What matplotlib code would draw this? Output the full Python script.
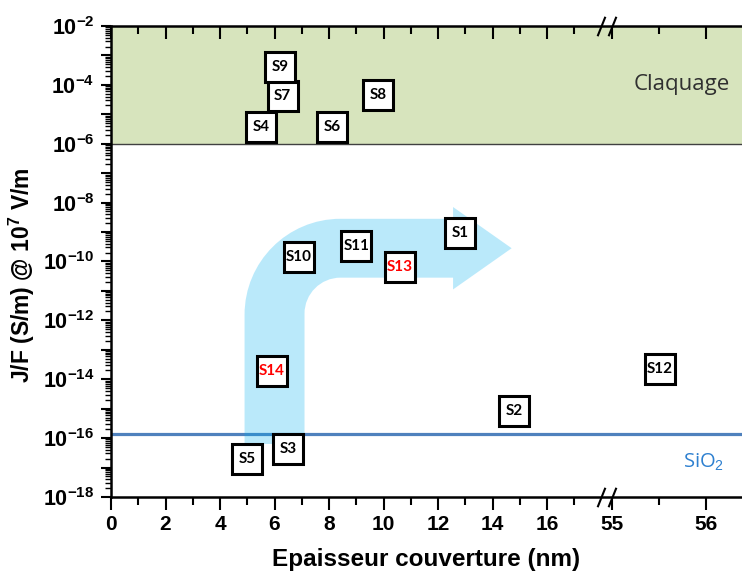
import numpy as np
import matplotlib
matplotlib.use('Agg')
import matplotlib.pyplot as plt
from matplotlib.path import Path
from matplotlib.patches import PathPatch
from matplotlib.ticker import LogLocator, FuncFormatter, NullFormatter
from matplotlib.transforms import blended_transform_factory

plt.rcParams['font.family'] = ['Liberation Sans', 'DejaVu Sans']
plt.rcParams['mathtext.fontset'] = 'custom'
plt.rcParams['mathtext.rm'] = 'Liberation Sans'
plt.rcParams['mathtext.bf'] = 'Liberation Sans:bold'

# samples
sample_names = ['S1', 'S2', 'S3', 'S4', 'S5', 'S6', 'S7',
                'S8', 'S9', 'S10', 'S11', 'S12', 'S13', 'S14']
thickness_nm = [12.8, 14.8, 6.5, 5.5, 5.0, 8.1, 6.3,
                9.8, 6.2, 6.9, 9.0, 55.51, 10.6, 5.9]
jf_values = [9.3e-10, 8.5e-16, 4.4e-17, 3.7e-6, 2.0e-17, 3.7e-6, 4.2e-5,
             4.6e-5, 4.1e-4, 1.45e-10, 3.4e-10, 2.2e-14, 6.6e-11, 1.95e-14]
highlighted = ['S13', 'S14']

# reference levels
sio2_level = 1.4e-16
breakdown_band = (1e-6, 1e-2)

# axis ticks
x_major_ticks = [0, 2, 4, 6, 8, 10, 12, 14, 16, 55, 56]
x_minor_ticks = [1, 3, 5, 7, 9, 11, 13, 15, 17, 55.5]
x_limits = (0, 56.38)
y_limits = (1e-18, 1e-2)

# broken x axis: 55 nm sits right after ~18 nm, and is stretched
BREAK_POS = 18.39
RIGHT_STRETCH = 3.45

# bent arrow (data coords)
arrow_shaft_x = (4.9, 7.1)
arrow_base_y = 10 ** -16.2
arrow_arm_y = (10 ** -10.55, 10 ** -8.55)
arrow_head_x = (12.55, 14.7)
arrow_head_y = (10 ** -10.95, 10 ** -8.15)


def _fwd(x):
    x = np.asarray(x, dtype=float)
    return np.where(x < 30, x, BREAK_POS + (x - 55) * RIGHT_STRETCH)


def _inv(u):
    u = np.asarray(u, dtype=float)
    return np.where(u < BREAK_POS, u, 55 + (u - BREAK_POS) / RIGHT_STRETCH)


def _draw_bend_arrow(ax):
    px = ax.transData.transform
    xl, yb = px((arrow_shaft_x[0], arrow_base_y))
    xr, _ = px((arrow_shaft_x[1], arrow_base_y))
    _, ylo = px((arrow_shaft_x[0], arrow_arm_y[0]))
    _, yhi = px((arrow_shaft_x[0], arrow_arm_y[1]))
    xhb, yht = px((arrow_head_x[0], arrow_head_y[1]))
    xtip, yhb = px((arrow_head_x[1], arrow_head_y[0]))
    ymid = (ylo + yhi) / 2
    w = xr - xl
    r_in = 0.6 * w
    r_out = r_in + w
    k = 0.5523

    verts = [
        (xl, yb),
        (xl, yhi - r_out),
        (xl, yhi - r_out + k * r_out), (xl + r_out - k * r_out, yhi), (xl + r_out, yhi),
        (xhb, yhi),
        (xhb, yht),
        (xtip, ymid),
        (xhb, yhb),
        (xhb, ylo),
        (xr + r_in, ylo),
        (xr + r_in - k * r_in, ylo), (xr, ylo - r_in + k * r_in), (xr, ylo - r_in),
        (xr, yb),
        (xl, yb),
    ]
    codes = [Path.MOVETO, Path.LINETO,
             Path.CURVE4, Path.CURVE4, Path.CURVE4,
             Path.LINETO, Path.LINETO, Path.LINETO, Path.LINETO, Path.LINETO,
             Path.LINETO,
             Path.CURVE4, Path.CURVE4, Path.CURVE4,
             Path.LINETO, Path.CLOSEPOLY]
    verts = ax.transAxes.inverted().transform(np.array(verts))
    ax.add_patch(PathPatch(Path(verts, codes), facecolor='#00b0f0', alpha=0.27,
                           edgecolor='none', transform=ax.transAxes, zorder=3))


def plot_jf_chart():
    fig = plt.figure(figsize=(7.42, 5.76), dpi=100)
    ax = fig.add_axes([0.1496, 0.1372, 0.8504, 0.8177])

    ax.set_xscale('function', functions=(_fwd, _inv))
    ax.set_yscale('log')
    ax.set_xlim(*x_limits)
    ax.set_ylim(*y_limits)

    # Breakdown zone
    ax.axhspan(*breakdown_band, color='#d7e4bd', zorder=0, lw=0)
    ax.axhline(breakdown_band[0], color='#404040', lw=1.0, zorder=1)
    ax.text(55.74, 1e-4, 'Claquage', family='Open Sans', fontsize=16,
            color='#303030', ha='center', va='center')

    # SiO2 reference
    ax.axhline(sio2_level, color='#4f81bd', lw=2.3, zorder=2)
    ax.text(55.97, 10 ** -16.84, 'SiO$_2$', family='Open Sans', fontsize=14.5,
            color='#2e80d0', ha='center', va='center')

    _draw_bend_arrow(ax)

    # Samples
    ax.plot(thickness_nm, jf_values, ls='none', marker='s', ms=21.5,
            mfc='white', mec='black', mew=2.2, zorder=5, clip_on=False)
    for name, x, y in zip(sample_names, thickness_nm, jf_values):
        ax.text(x, y, name, family='Lato', fontweight='bold', fontsize=11,
                color='red' if name in highlighted else 'black',
                ha='center', va='center', zorder=6)

    # Ticks
    ax.set_xticks(x_major_ticks)
    ax.set_xticks(x_minor_ticks, minor=True)
    ax.set_xticklabels([str(t) for t in x_major_ticks])
    ax.yaxis.set_major_locator(LogLocator(base=10, numticks=30))
    ax.yaxis.set_minor_locator(LogLocator(base=10, subs=np.arange(2, 10), numticks=30))
    ax.yaxis.set_minor_formatter(NullFormatter())

    def _ylab(v, pos):
        e = int(round(np.log10(v)))
        return r'$\mathbf{10^{%d}}$' % e if e % 2 == 0 else ''
    ax.yaxis.set_major_formatter(FuncFormatter(_ylab))

    ax.tick_params(axis='x', which='major', direction='out', length=9, width=1.5,
                   labelsize=15, pad=4)
    ax.tick_params(axis='x', which='minor', direction='out', length=6, width=1.5)
    ax.tick_params(axis='y', which='major', direction='out', length=7, width=1.5,
                   labelsize=15.5, pad=5)
    ax.tick_params(axis='y', which='minor', direction='out', length=4, width=1.0)
    for lab in ax.get_xticklabels():
        lab.set_fontweight('bold')

    # inward ticks along the top
    ax_top = ax.twinx()
    ax_top.xaxis.set_visible(True)
    ax_top.xaxis.tick_top()
    ax_top.tick_params(axis='x', which='major', direction='in', length=9, width=1.5,
                       labeltop=False)
    ax_top.tick_params(axis='x', which='minor', direction='in', length=6, width=1.5)
    ax_top.yaxis.set_visible(False)
    for s in ax_top.spines.values():
        s.set_visible(False)

    for side in ('left', 'bottom', 'top'):
        ax.spines[side].set_linewidth(1.8)
        ax.spines[side].set_zorder(7)
    ax.spines['right'].set_visible(False)

    # break marks
    brk = blended_transform_factory(ax.transData, ax.transAxes)
    for yy in (0, 1):
        ax.plot([54.88, 55.0], [yy, yy], ls='none', marker=[(-0.4, -1), (0.4, 1)],
                ms=14, mec='black', mew=1.5, transform=brk, clip_on=False, zorder=8)

    ax.set_xlabel('Epaisseur couverture (nm)', fontsize=17.5, fontweight='bold', labelpad=10)
    ax.set_ylabel(r'J/F (S/m) @ 10$^{\mathbf{7}}$ V/m', fontsize=16.5, fontweight='bold')
    ax.yaxis.set_label_coords(-0.117, 0.47)

    return fig, ax


if __name__ == "__main__":
    fig, ax = plot_jf_chart()
    fig.savefig('out.png', dpi=100)
